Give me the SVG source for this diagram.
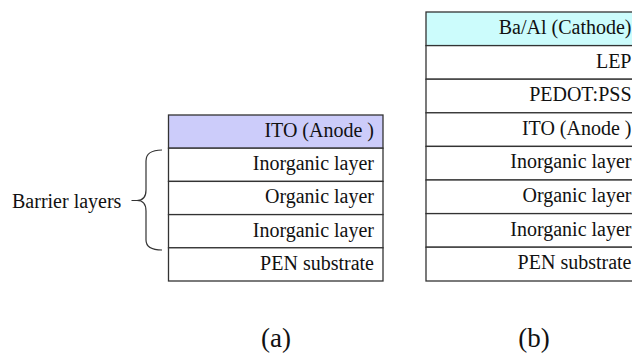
<svg xmlns="http://www.w3.org/2000/svg" width="632" height="354" viewBox="0 0 632 354" font-family="'Liberation Serif', 'DejaVu Serif', serif">
  <style>
    .layer rect { fill: #ffffff; stroke: #333333; stroke-width: 1.3; }
    .layer text { font-size: 20px; fill: #111111; text-anchor: end; }
    .anode rect { fill: #ccccfa; }
    .cathode rect { fill: #ccfcfc; }
    .label { fill: #111111; }
    .side { font-size: 20px; }
    .caption { font-size: 27px; text-anchor: middle; }
    .brace { fill: none; stroke: #333333; stroke-width: 1.2; }
  </style>

  <!-- Stack (a): barrier film on PEN -->
  <g id="stack-a">
    <g id="a-ito" class="layer anode"><rect x="168.5" y="115" width="214.5" height="33.2"/><text x="374" y="137">ITO (Anode )</text></g>
    <g id="a-inorganic-1" class="layer"><rect x="168.5" y="148.2" width="214.5" height="33.2"/><text x="374" y="170.2">Inorganic layer</text></g>
    <g id="a-organic" class="layer"><rect x="168.5" y="181.4" width="214.5" height="33.2"/><text x="374" y="203.4">Organic layer</text></g>
    <g id="a-inorganic-2" class="layer"><rect x="168.5" y="214.6" width="214.5" height="33.2"/><text x="374" y="236.6">Inorganic layer</text></g>
    <g id="a-pen" class="layer"><rect x="168.5" y="247.8" width="214.5" height="33.2"/><text x="374" y="269.8">PEN substrate</text></g>
  </g>

  <!-- Brace grouping the three barrier layers -->
  <g id="barrier-brace">
    <path class="brace" d="M162,150 Q146,150 146,161 L146,190 Q146,200.5 137,200.5 L131.5,200.5 M137,200.5 Q146,200.5 146,211 L146,240 Q146,250 162,250"/>
    <text class="label side" x="12" y="207.5">Barrier layers</text>
  </g>

  <!-- Stack (b): full device on barrier film -->
  <g id="stack-b">
    <g id="b-cathode" class="layer cathode"><rect x="426" y="12" width="214.5" height="33.6"/><text x="631.5" y="34">Ba/Al (Cathode)</text></g>
    <g id="b-lep" class="layer"><rect x="426" y="45.6" width="214.5" height="33.6"/><text x="631.5" y="67.6">LEP</text></g>
    <g id="b-pedot" class="layer"><rect x="426" y="79.2" width="214.5" height="33.6"/><text x="631.5" y="101.2">PEDOT:PSS</text></g>
    <g id="b-ito" class="layer"><rect x="426" y="112.8" width="214.5" height="33.6"/><text x="631.5" y="134.8">ITO (Anode )</text></g>
    <g id="b-inorganic-1" class="layer"><rect x="426" y="146.4" width="214.5" height="33.6"/><text x="631.5" y="168.4">Inorganic layer</text></g>
    <g id="b-organic" class="layer"><rect x="426" y="180" width="214.5" height="33.6"/><text x="631.5" y="202">Organic layer</text></g>
    <g id="b-inorganic-2" class="layer"><rect x="426" y="213.6" width="214.5" height="33.6"/><text x="631.5" y="235.6">Inorganic layer</text></g>
    <g id="b-pen" class="layer"><rect x="426" y="247.2" width="214.5" height="33.8"/><text x="631.5" y="269.2">PEN substrate</text></g>
  </g>

  <!-- Captions -->
  <text id="caption-a" class="label caption" x="276" y="347">(a)</text>
  <text id="caption-b" class="label caption" x="534" y="347">(b)</text>
</svg>
